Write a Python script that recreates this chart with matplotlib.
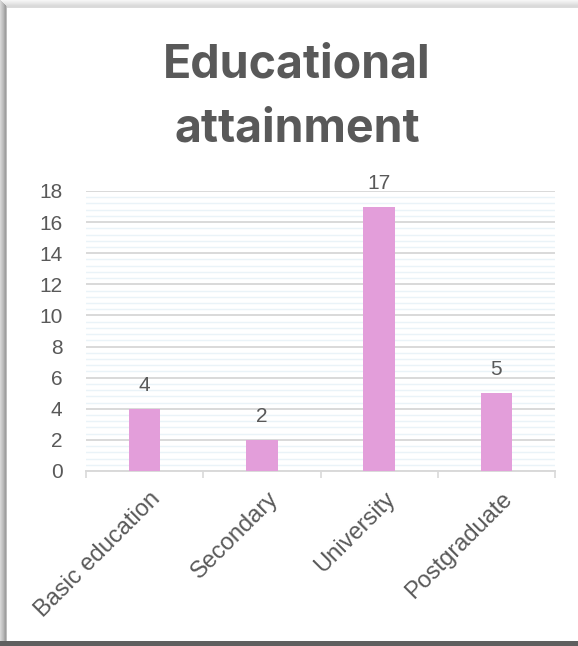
import numpy as np
import matplotlib
matplotlib.use("Agg")
import matplotlib.pyplot as plt
import matplotlib.transforms as mtransforms
from matplotlib.patches import Rectangle
from matplotlib.ticker import MultipleLocator

# education level counts
categories = ["Basic education", "Secondary", "University", "Postgraduate"]
counts = [4, 2, 17, 5]

TEXT = "#595959"
BAR = "#E39EDA"
GRID = "#D9D9D9"
MINOR_GRID = "#EAF3F8"
FONT = "Liberation Sans"

fig = plt.figure(figsize=(5.78, 6.46), dpi=100)
fig.patch.set_facecolor("white")

W, H = 578, 646

def px_rect(x, y, w, h, color):
    # rectangle given in pixel units from the top-left corner
    fig.add_artist(Rectangle((x / W, 1 - (y + h) / H), w / W, h / H,
                             transform=fig.transFigure, facecolor=color,
                             edgecolor="none", zorder=0))

# soft shadow along the top and left edges of the card, dark rim at the bottom
top_shades = [0.96, 0.94, 0.92, 0.90, 0.88, 0.86, 0.85, 0.86]
for i, s in enumerate(top_shades):
    px_rect(0, i, W, 1, str(s))
left_shades = [0.84, 0.80, 0.76, 0.72, 0.66, 0.62, 0.74]
for i, s in enumerate(left_shades):
    px_rect(i, i, 1, H, str(s))
px_rect(7, 8, W - 7, H - 14, "white")
px_rect(0, H - 5, W, 5, "#5f5f5f")

ax = fig.add_axes([86 / W, 1 - 471 / H, 469 / W, 280 / H])
x = np.arange(len(categories))
bars = ax.bar(x, counts, width=0.27, color=BAR, zorder=3)

ax.set_xlim(-0.5, len(categories) - 0.5)
ax.set_ylim(0, 18)
ax.yaxis.set_major_locator(MultipleLocator(2))
ax.yaxis.set_minor_locator(MultipleLocator(0.4))
ax.grid(axis="y", which="major", color=GRID, linewidth=1.4, zorder=1)
ax.grid(axis="y", which="minor", color=MINOR_GRID, linewidth=1.0, zorder=0)

for side in ["top", "right", "left"]:
    ax.spines[side].set_visible(False)
ax.spines["bottom"].set_color(GRID)
ax.spines["bottom"].set_linewidth(1.4)

ax.set_xticks(x)
ax.set_xticklabels(categories, rotation=45, ha="right", rotation_mode="anchor",
                   fontsize=17, color=TEXT, family=FONT)
ax.set_xticks(np.arange(-0.5, len(categories)), minor=True)
ax.tick_params(axis="x", which="major", length=0, pad=12)
ax.tick_params(axis="x", which="minor", length=5, width=1.2, color=GRID)
ax.tick_params(axis="y", which="both", length=0, pad=17)

# shift the slanted category names a few pixels to the right
shift = mtransforms.ScaledTranslation(5 / 100, 0, fig.dpi_scale_trans)
for lbl in ax.get_xticklabels():
    lbl.set_transform(lbl.get_transform() + shift)
for lbl in ax.get_yticklabels():
    lbl.set_fontsize(15)
    lbl.set_color(TEXT)
    lbl.set_family(FONT)

for b, v in zip(bars, counts):
    ax.annotate(str(v), (b.get_x() + b.get_width() / 2, v),
                xytext=(0, 10), textcoords="offset points",
                ha="center", va="bottom", fontsize=15, color=TEXT, family=FONT)

fig.text(297 / W, 1 - 78 / H, "Educational", ha="center", va="baseline",
         fontsize=33.5, fontweight="bold", color=TEXT, family="Inter")
fig.text(297 / W, 1 - 141 / H, "attainment", ha="center", va="baseline",
         fontsize=33.5, fontweight="bold", color=TEXT, family="Inter")

fig.savefig("out.png", dpi=100)
